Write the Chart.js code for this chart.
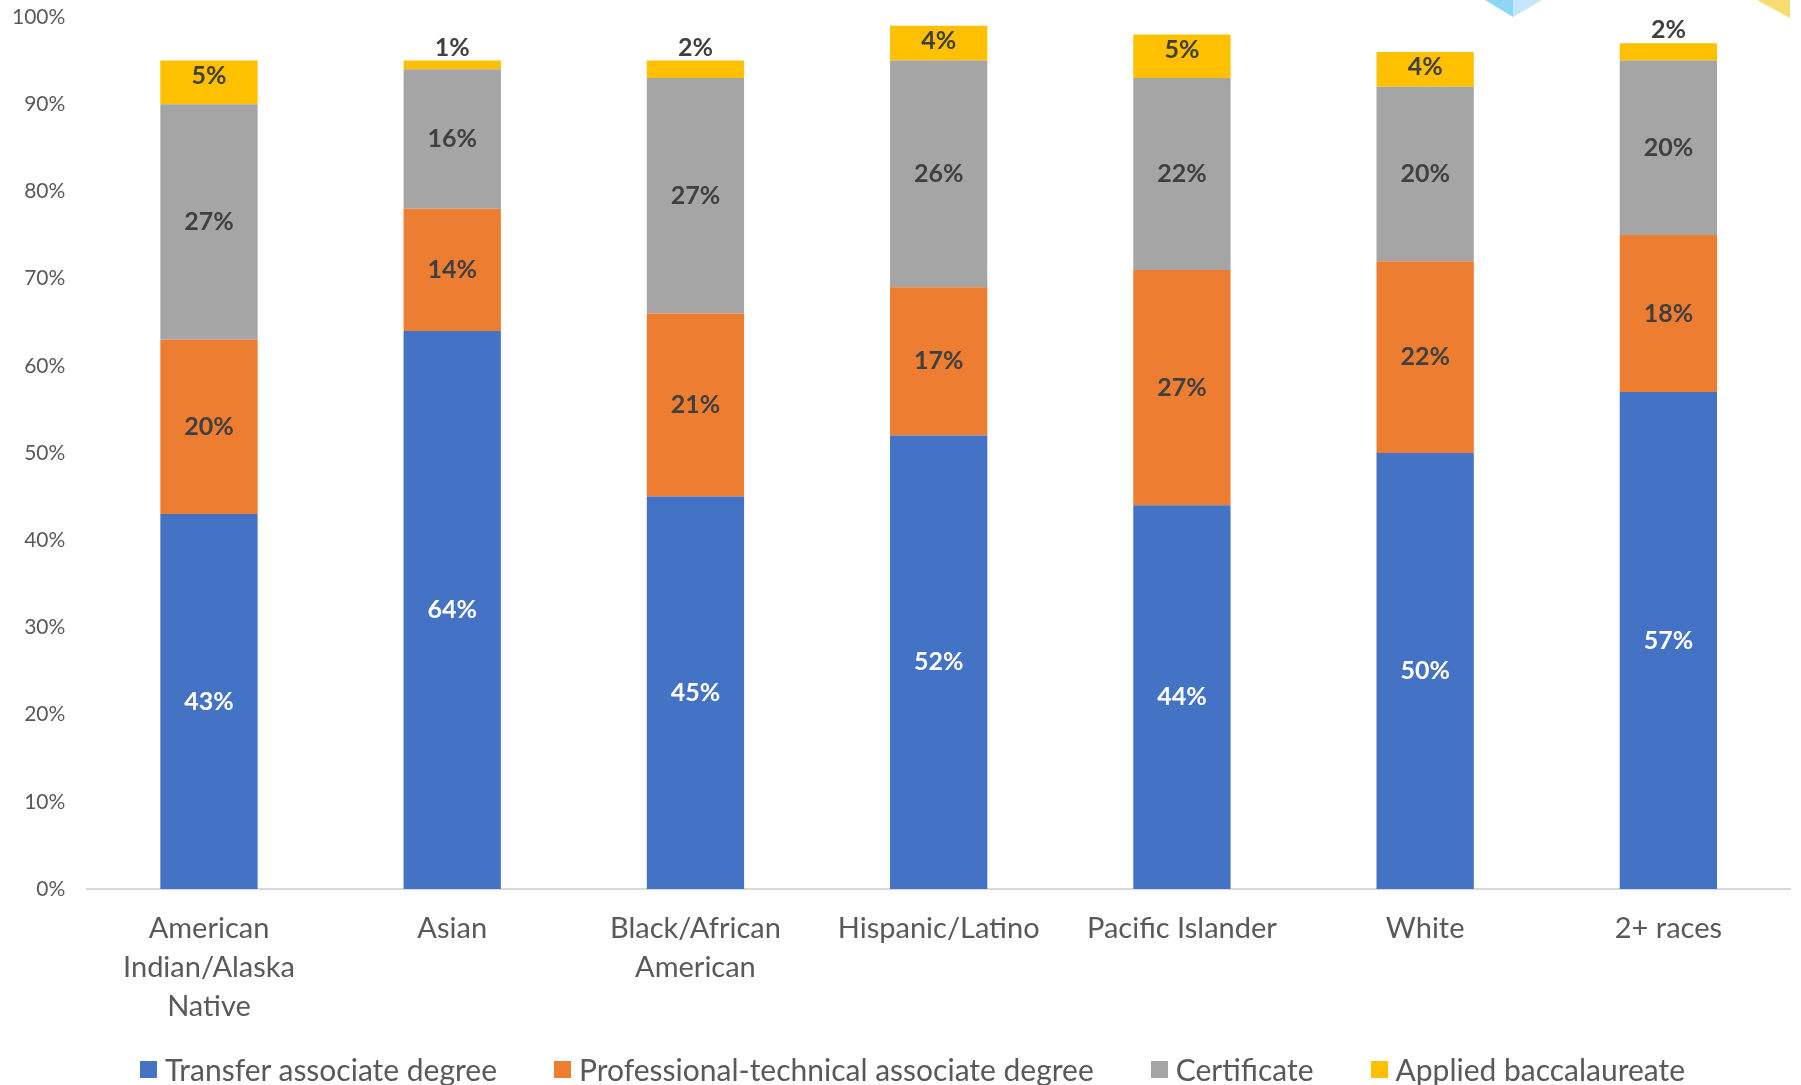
<!DOCTYPE html>
<html>
<head>
<meta charset="utf-8">
<script src="https://cdn.jsdelivr.net/npm/chart.js@4"></script>
<style>
  body { margin: 0; background: #fff; }
  #wrap { position: relative; width: 1801px; height: 1085px; overflow: hidden; font-family: Lato, 'Open Sans', sans-serif; }
  .deco1 { position: absolute; left: 1485px; top: 0; width: 28px; height: 17px; background: #8dd6f4; clip-path: polygon(0 0, 100% 0, 100% 100%); }
  .deco2 { position: absolute; left: 1513px; top: 0; width: 29px; height: 17px; background: #c4e6f8; clip-path: polygon(0 0, 100% 0, 0 100%); }
  .deco3 { position: absolute; left: 1757px; top: 0; width: 33px; height: 18px; background: #f8dc70; clip-path: polygon(0 0, 100% 0, 100% 100%); }
  #legend { position: absolute; left: 0; width: 1801px; top: 1050px; height: 38px; display: flex; justify-content: center; align-items: center; gap: 57px; color: #595959; font-size: 30px; padding-left: 24px; box-sizing: border-box; }
  #legend .item { display: flex; align-items: center; white-space: nowrap; }
  #legend .box { width: 17px; height: 17px; margin-right: 8px; }
</style>
</head>
<body>
<div id="wrap">
  <canvas id="barChart" width="1801" height="1085"></canvas>
  <div class="deco1"></div><div class="deco2"></div><div class="deco3"></div>
  <div id="legend"></div>
</div>
<script>
// categorie (gruppi etnici)
const categories = [
  ["American", "Indian/Alaska", "Native"],
  "Asian",
  ["Black/African", "American"],
  "Hispanic/Latino",
  "Pacific Islander",
  "White",
  "2+ races",
];

// percentuali per tipo di titolo
const transferAssociate = [43, 64, 45, 52, 44, 50, 57];
const profTechAssociate = [20, 14, 21, 17, 27, 22, 18];
const certificate = [27, 16, 27, 26, 22, 20, 20];
const appliedBacc = [5, 1, 2, 4, 5, 4, 2];

const yTicks = [0, 10, 20, 30, 40, 50, 60, 70, 80, 90, 100];

const FONT = "Lato, 'Open Sans', sans-serif";

// etichette dei valori dentro le barre
const valueLabels = {
  id: "valueLabels",
  afterDatasetsDraw(chart) {
    const ctx = chart.ctx;
    ctx.save();
    ctx.font = "bold 25px " + FONT;
    ctx.textAlign = "center";
    ctx.textBaseline = "middle";
    chart.data.datasets.forEach((ds, i) => {
      const meta = chart.getDatasetMeta(i);
      meta.data.forEach((bar, j) => {
        const v = ds.data[j];
        let y = (bar.y + bar.base) / 2;
        if (i === chart.data.datasets.length - 1) {
          // ultimo segmento: vicino alla cima, sopra se troppo piccolo
          y = v < 3 ? bar.y - 13 : bar.y + 15;
        }
        ctx.fillStyle = i === 0 ? "#ffffff" : "#404040";
        ctx.fillText(v + "%", bar.x, y);
      });
    });
    ctx.restore();
  },
};

const ctx = document.getElementById("barChart").getContext("2d");
const chart = new Chart(ctx, {
  type: "bar",
  data: {
    labels: categories,
    datasets: [
      { label: "Transfer associate degree", data: transferAssociate, backgroundColor: "#4472C4" },
      { label: "Professional-technical associate degree", data: profTechAssociate, backgroundColor: "#ED7D31" },
      { label: "Certificate", data: certificate, backgroundColor: "#A5A5A5" },
      { label: "Applied baccalaureate", data: appliedBacc, backgroundColor: "#FFC000" },
    ],
  },
  options: {
    responsive: false,
    animation: false,
    devicePixelRatio: 1,
    layout: { padding: { top: 17, left: -10, right: 11, bottom: 39 } },
    datasets: { bar: { barPercentage: 0.4, categoryPercentage: 1.0 } },
    plugins: {
      tooltip: { enabled: false },
      legend: { display: false },
    },
    scales: {
      x: {
        stacked: true,
        grid: { display: false, drawTicks: false },
        border: { color: "#d9d9d9", width: 2 },
        ticks: {
          color: "#595959",
          font: { family: FONT, size: 29, lineHeight: 1.345 },
          padding: 20,
          maxRotation: 0,
          autoSkip: false,
        },
      },
      y: {
        stacked: true,
        min: 0,
        max: 100,
        afterBuildTicks: (axis) => { axis.ticks = yTicks.map((v) => ({ value: v })); },
        afterFit: (axis) => { axis.paddingTop = 0; },
        grid: { display: false, drawTicks: false },
        border: { display: false },
        ticks: {
          color: "#595959",
          font: { family: FONT, size: 21 },
          padding: 22,
          callback: (v) => v + "%",
        },
      },
    },
  },
  plugins: [valueLabels],
});

// legenda costruita dai dataset
const legendEl = document.getElementById("legend");
chart.data.datasets.forEach((ds) => {
  const item = document.createElement("div");
  item.className = "item";
  item.innerHTML = `<span class="box" style="background:${ds.backgroundColor}"></span>${ds.label}`;
  legendEl.appendChild(item);
});
</script>
</body>
</html>
